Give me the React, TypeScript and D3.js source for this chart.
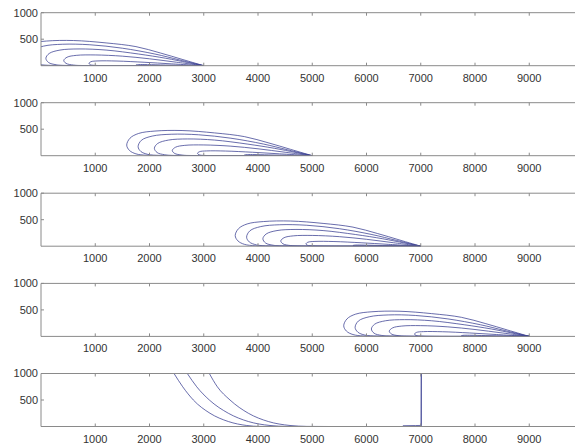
import React from 'react';
import * as d3 from 'd3';

// tick values
const xTicks = [1000, 2000, 3000, 4000, 5000, 6000, 7000, 8000, 9000];
const yTicks = [500, 1000];

// end point of the loop family in panels 1-4
const loopEnds = [3000, 5000, 7000, 9000];

// loop shapes, offsets from the end point [dx, y], traced bottom -> tip -> top
const loopA: [number, number][] = [[0, 0], [-2600, 2], [-3050, 8], [-3250, 35], [-3370, 100], [-3420, 200], [-3360, 330], [-3200, 420], [-2900, 465], [-2400, 475], [-1800, 430], [-1250, 360], [-800, 240], [-400, 120], [0, 0]];
const loopB: [number, number][] = [[0, 0], [-2300, 1], [-2800, 5], [-3030, 25], [-3160, 80], [-3210, 170], [-3150, 290], [-2950, 370], [-2600, 405], [-2100, 395], [-1500, 330], [-900, 220], [-450, 110], [0, 0]];
const loopC: [number, number][] = [[0, 0], [-2500, 4], [-2720, 18], [-2860, 60], [-2910, 140], [-2850, 230], [-2650, 295], [-2300, 316], [-1800, 295], [-1200, 220], [-700, 140], [-300, 60], [0, 0]];
const loopD: [number, number][] = [[0, 0], [-2200, 3], [-2400, 12], [-2540, 45], [-2580, 100], [-2520, 160], [-2350, 195], [-2000, 203], [-1500, 180], [-1000, 130], [-500, 65], [0, 0]];
const loopE: [number, number][] = [[0, 0], [-1800, 1], [-1980, 5], [-2090, 18], [-2115, 45], [-2080, 75], [-1950, 90], [-1600, 88], [-1100, 65], [-600, 35], [0, 0]];
const loopF: [number, number][] = [[0, 0], [-1150, 1], [-1230, 5], [-1250, 12], [-1220, 20], [-1100, 22], [-800, 15], [-400, 6], [0, 0]];
const loops = [loopA, loopB, loopC, loopD, loopE, loopF];

// panel 5 decay curves [x, y]
const decay1: [number, number][] = [[2452, 1000], [2612, 750], [2808, 500], [3115, 250], [3453, 94], [3792, 19], [4037, 2], [4400, 0]];
const decay2: [number, number][] = [[2697, 1000], [2870, 750], [3103, 500], [3453, 250], [3822, 94], [4221, 19], [4530, 2], [4900, 0]];
const decay3: [number, number][] = [[3103, 1000], [3250, 750], [3484, 500], [3822, 250], [4190, 94], [4590, 19], [4898, 2], [5300, 0]];
const spike: [number, number][] = [[6670, 15], [6900, 18], [7005, 20], [7010, 1000], [7012, 0]];

const W = 575;
const H = 445;
const left = 41;
const pxPer1000 = 54.25;
const panelTops = [12.7, 102.7, 193.2, 283.4, 373.5];
const panelH = 53;
const lineColor = '#3a3f92';
const axisColor = '#8a8a8a';
const textColor = '#333';

const x = d3.scaleLinear().domain([0, 10000]).range([left, left + pxPer1000 * 10]);

function Panel({ top, idx, curves, decay }: { top: number; idx: number; curves: [number, number][][]; decay: boolean }) {
  const y = d3.scaleLinear().domain([0, 1000]).range([top + panelH, top]);
  const loopLine = d3.line<[number, number]>()
    .x(d => x(d[0]))
    .y(d => y(d[1]))
    .curve(d3.curveCatmullRom.alpha(0.5));
  const decayLine = d3.line<[number, number]>()
    .x(d => x(d[0]))
    .y(d => y(d[1]))
    .curve(d3.curveMonotoneX);
  const straight = d3.line<[number, number]>()
    .x(d => x(d[0]))
    .y(d => y(d[1]));
  const x0 = x(0);
  const x1 = x(10000);
  const clipId = `clip-${idx}`;
  return (
    <g>
      <clipPath id={clipId}>
        <rect x={x0} y={top} width={x1 - x0} height={panelH} />
      </clipPath>
      <g clipPath={`url(#${clipId})`} fill="none" stroke={lineColor} strokeWidth={0.9} strokeOpacity={0.85}>
        {curves.map((c, i) => {
          const gen = !decay ? loopLine : i < 3 ? decayLine : straight;
          return <path key={i} d={gen(c) || ''} />;
        })}
      </g>
      <g stroke={axisColor} strokeWidth={1} fill="none">
        <line x1={x0} x2={x1} y1={top} y2={top} />
        <line x1={x0} x2={x1} y1={top + panelH} y2={top + panelH} />
        <line x1={x0} x2={x0} y1={top} y2={top + panelH} />
        {xTicks.map(t => (
          <g key={t}>
            <line x1={x(t)} x2={x(t)} y1={top} y2={top + 3} />
            <line x1={x(t)} x2={x(t)} y1={top + panelH} y2={top + panelH - 3} />
          </g>
        ))}
        {yTicks.map(t => <line key={t} x1={x0} x2={x0 + 3} y1={y(t)} y2={y(t)} />)}
      </g>
      <g fontFamily="'Liberation Sans', Arial, sans-serif" fontSize={11} fill={textColor}>
        {xTicks.map(t => (
          <text key={t} x={x(t)} y={top + panelH + 16} textAnchor="middle">{t}</text>
        ))}
        {yTicks.map(t => (
          <text key={t} x={x0 - 3} y={y(t)} dy="0.35em" textAnchor="end">{t}</text>
        ))}
      </g>
    </g>
  );
}

export default function App() {
  const loopPanels = loopEnds.map(end => loops.map(l => l.map(([dx, v]) => [end + dx, v] as [number, number])));
  const lastPanel = [decay1, decay2, decay3, spike];
  const all = [...loopPanels, lastPanel];
  return (
    <svg width={W} height={H} style={{ position: 'absolute', left: 0, top: 0, background: '#fff' }}>
      {all.map((curves, i) => (
        <Panel key={i} idx={i} top={panelTops[i]} curves={curves} decay={i === 4} />
      ))}
    </svg>
  );
}
